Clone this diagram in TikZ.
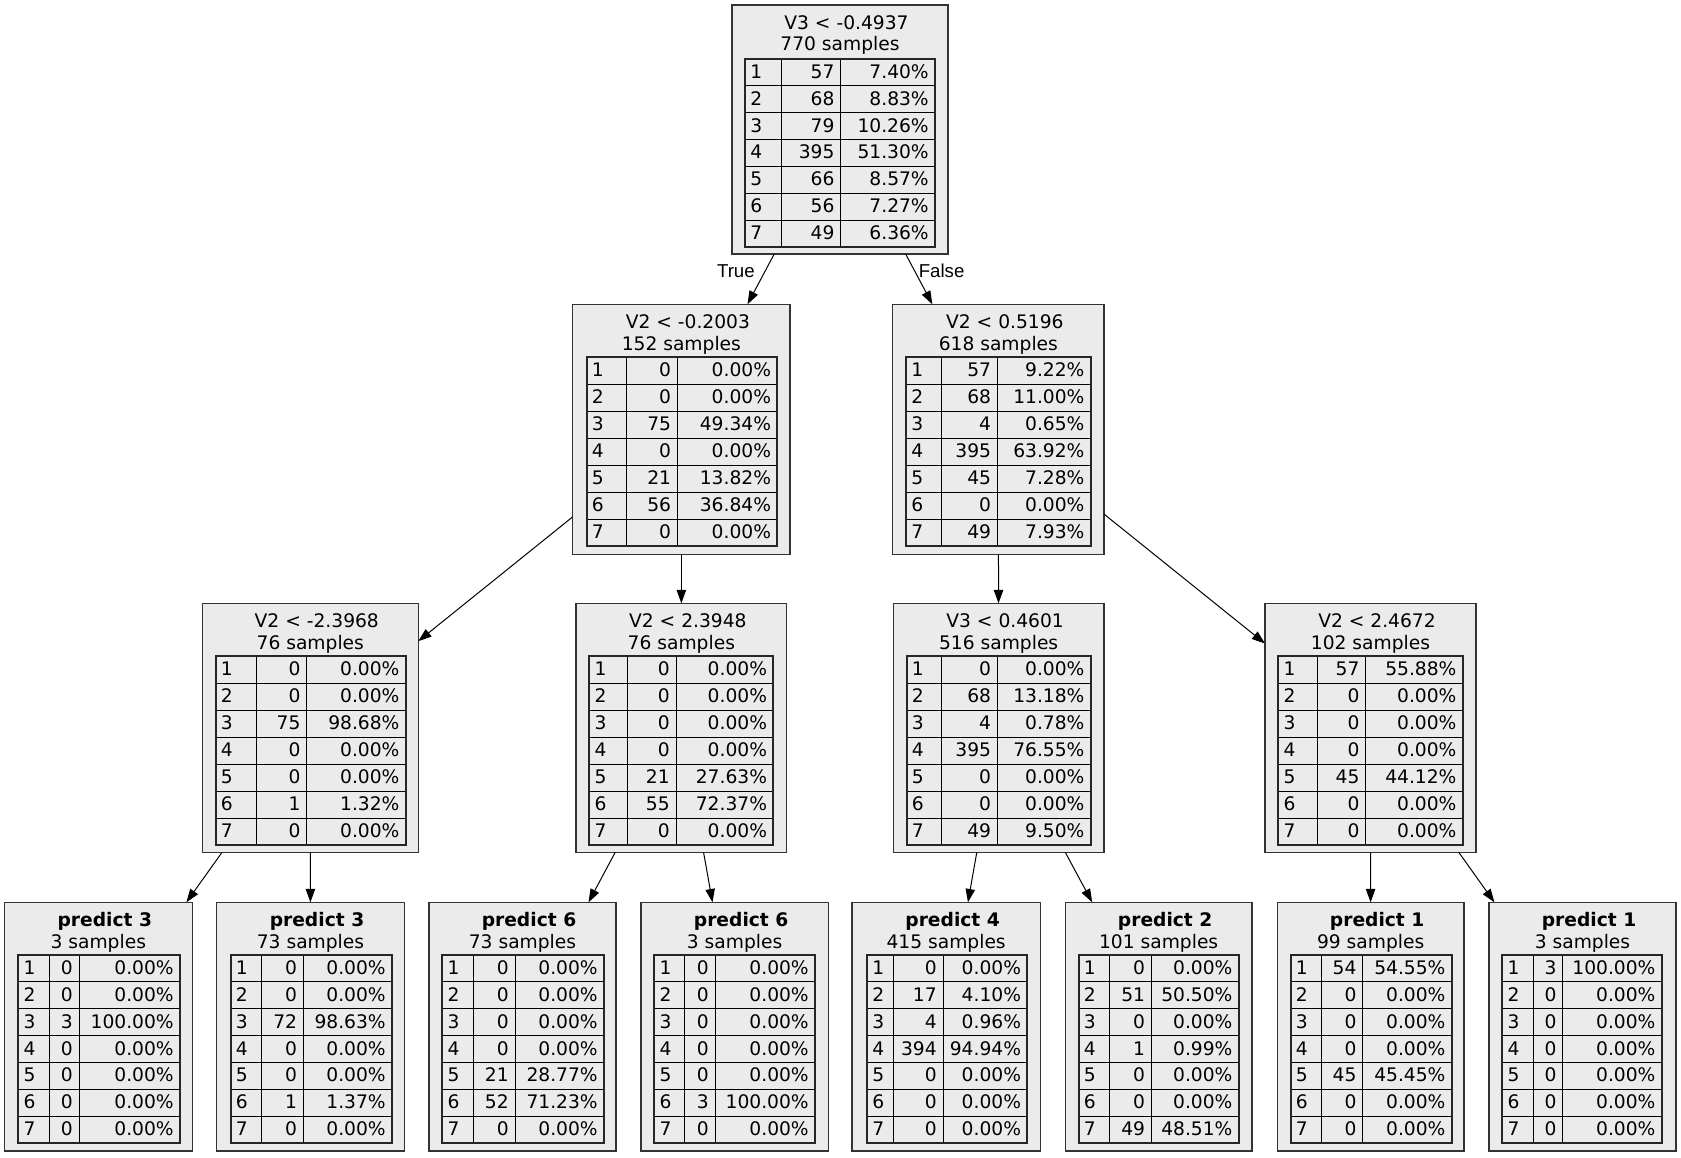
\documentclass[tikz,border=0pt]{standalone}
\usepackage{fontspec}
\setmainfont{DejaVu Sans}
\newfontfamily\labfont{Liberation Sans}
\usetikzlibrary{arrows.meta}
\definecolor{boxfill}{HTML}{EBEBEB}
\tikzset{
  dtbox/.style={draw=black!80, line width=0.9pt, fill=boxfill, inner sep=0pt, outer sep=0pt},
  cellline/.style={draw=black, line width=0.75pt},
  tborder/.style={draw=black!85, line width=1.5pt},
  txt/.style={inner sep=0pt, font=\fontsize{14}{16}\selectfont},
  ttl/.style={txt, anchor=base},
  bttl/.style={ttl, font=\fontsize{14}{16}\selectfont\bfseries},
  edge/.style={draw=black, line width=0.75pt, -{Triangle[length=10pt,width=7pt]}},
  elabel/.style={inner sep=0pt, font=\labfont\fontsize{14}{16}\selectfont},
}
% #1 name, #2 x1, #3 y1, #4 x2, #5 y2, #6 line1, #7 line2, #8 title style
\newcommand\dtbox[8]{%
  \node[dtbox, minimum width={(#4-#2)*0.75pt}, minimum height={(#5-#3)*0.75pt}] (#1) at ({(#2+#4)/2},{(#3+#5)/2}) {};
  \node[#8] (#1-t1) at ({(#2+#4)/2+6.5},{#3+24}) {#6};
  \node[ttl] (#1-t2) at ({(#2+#4)/2},{#3+45.7}) {#7};
}
% #1 x1, #2 y1, #3 c1, #4 c2, #5 x2, #6 y2, #7 rows
\newcommand\dttable[7]{%
  \pgfmathsetmacro\rh{(#6-#2)/7}
  \foreach \k in {1,...,6} {\draw[cellline] (#1,{#2+\k*\rh}) -- (#5,{#2+\k*\rh});}
  \draw[cellline] (#3,#2) -- (#3,#6);
  \draw[cellline] (#4,#2) -- (#4,#6);
  \draw[tborder] (#1,#2) rectangle (#5,#6);
  \foreach \a/\b/\c [count=\i from 0] in {#7} {
    \node[txt, anchor=base west] at ({#1+5},{#2+(\i+0.72)*\rh}) {\a};
    \node[txt, anchor=base east] at ({#4-6},{#2+(\i+0.72)*\rh}) {\b};
    \node[txt, anchor=base east] at ({#5-6},{#2+(\i+0.72)*\rh}) {\c\%};
  }
}
\begin{document}
\begin{tikzpicture}[x=0.75pt,y=-0.75pt]
\fill[white] (0,0) rectangle (1681,1157);
\useasboundingbox (0,0) rectangle (1681,1157);

% level 1
\dtbox{n0}{732}{5}{948}{254}{V3 < -0.4937}{770 samples}{ttl}
\dttable{745}{59}{781}{840.7}{935}{247}{1/57/7.40, 2/68/8.83, 3/79/10.26, 4/395/51.30, 5/66/8.57, 6/56/7.27, 7/49/6.36}

% level 2
\dtbox{n1}{572.7}{304.3}{790}{554.6}{V2 < -0.2003}{152 samples}{ttl}
\dttable{586.7}{357.3}{626.7}{677.3}{777.3}{546.3}{1/0/0.00, 2/0/0.00, 3/75/49.34, 4/0/0.00, 5/21/13.82, 6/56/36.84, 7/0/0.00}
\dtbox{n2}{892.7}{304.3}{1104}{554.6}{V2 < 0.5196}{618 samples}{ttl}
\dttable{906}{357.3}{941}{997.3}{1090.7}{546.3}{1/57/9.22, 2/68/11.00, 3/4/0.65, 4/395/63.92, 5/45/7.28, 6/0/0.00, 7/49/7.93}

% level 3
\dtbox{n3}{202.3}{603.3}{418.3}{852.3}{V2 < -2.3968}{76 samples}{ttl}
\dttable{215.7}{656}{256}{306.7}{405.7}{845}{1/0/0.00, 2/0/0.00, 3/75/98.68, 4/0/0.00, 5/0/0.00, 6/1/1.32, 7/0/0.00}
\dtbox{n4}{576}{603.3}{786.7}{852.3}{V2 < 2.3948}{76 samples}{ttl}
\dttable{589.3}{656}{627.7}{676}{773.3}{845}{1/0/0.00, 2/0/0.00, 3/0/0.00, 4/0/0.00, 5/21/27.63, 6/55/72.37, 7/0/0.00}
\dtbox{n5}{893.3}{603.3}{1104}{852.3}{V3 < 0.4601}{516 samples}{ttl}
\dttable{906.7}{656}{941}{997.3}{1090.7}{845}{1/0/0.00, 2/68/13.18, 3/4/0.78, 4/395/76.55, 5/0/0.00, 6/0/0.00, 7/49/9.50}
\dtbox{n6}{1265}{603.3}{1476}{852.3}{V2 < 2.4672}{102 samples}{ttl}
\dttable{1278.3}{656}{1317.3}{1365.7}{1462.7}{845}{1/57/55.88, 2/0/0.00, 3/0/0.00, 4/0/0.00, 5/45/44.12, 6/0/0.00, 7/0/0.00}

% leaves
\dtbox{l1}{4.3}{902.3}{192.3}{1151}{predict 3}{3 samples}{bttl}
\dttable{18.3}{955}{49}{79}{180}{1143.3}{1/0/0.00, 2/0/0.00, 3/3/100.00, 4/0/0.00, 5/0/0.00, 6/0/0.00, 7/0/0.00}
\dtbox{l2}{216.7}{902.3}{404.3}{1151}{predict 3}{73 samples}{bttl}
\dttable{230.7}{955}{261.7}{303.3}{392}{1143.3}{1/0/0.00, 2/0/0.00, 3/72/98.63, 4/0/0.00, 5/0/0.00, 6/1/1.37, 7/0/0.00}
\dtbox{l3}{429}{902.3}{616}{1151}{predict 6}{73 samples}{bttl}
\dttable{442.3}{955}{473.3}{515}{604}{1143.3}{1/0/0.00, 2/0/0.00, 3/0/0.00, 4/0/0.00, 5/21/28.77, 6/52/71.23, 7/0/0.00}
\dtbox{l4}{641}{902.3}{828.3}{1151}{predict 6}{3 samples}{bttl}
\dttable{654.3}{955}{684.3}{715}{815}{1143.3}{1/0/0.00, 2/0/0.00, 3/0/0.00, 4/0/0.00, 5/0/0.00, 6/3/100.00, 7/0/0.00}
\dtbox{l5}{852}{902.3}{1040.3}{1151}{predict 4}{415 samples}{bttl}
\dttable{867}{955}{893}{943}{1027.3}{1143.3}{1/0/0.00, 2/17/4.10, 3/4/0.96, 4/394/94.94, 5/0/0.00, 6/0/0.00, 7/0/0.00}
\dtbox{l6}{1065.3}{902.3}{1252}{1151}{predict 2}{101 samples}{bttl}
\dttable{1078.7}{955}{1109.7}{1151.3}{1238.7}{1143.3}{1/0/0.00, 2/51/50.50, 3/0/0.00, 4/1/0.99, 5/0/0.00, 6/0/0.00, 7/49/48.51}
\dtbox{l7}{1277.3}{902.3}{1464}{1151}{predict 1}{99 samples}{bttl}
\dttable{1290.7}{955}{1321}{1362.7}{1451.7}{1143.3}{1/54/54.55, 2/0/0.00, 3/0/0.00, 4/0/0.00, 5/45/45.45, 6/0/0.00, 7/0/0.00}
\dtbox{l8}{1489}{902.3}{1676}{1151}{predict 1}{3 samples}{bttl}
\dttable{1502.3}{955}{1533.3}{1562.7}{1661.7}{1143.3}{1/3/100.00, 2/0/0.00, 3/0/0.00, 4/0/0.00, 5/0/0.00, 6/0/0.00, 7/0/0.00}

% connectors
\draw[edge] (n0) -- (n1);
\draw[edge] (n0) -- (n2);
\draw[edge] (n1) -- (n3);
\draw[edge] (n1) -- (n4);
\draw[edge] (n2) -- (n5);
\draw[edge] (n2) -- (n6);
\draw[edge] (n3) -- (l1);
\draw[edge] (n3) -- (l2);
\draw[edge] (n4) -- (l3);
\draw[edge] (n4) -- (l4);
\draw[edge] (n5) -- (l5);
\draw[edge] (n5) -- (l6);
\draw[edge] (n6) -- (l7);
\draw[edge] (n6) -- (l8);

\node[elabel, anchor=base east] (tlab) at (755,277.3) {True};
\node[elabel, anchor=base west] (flab) at (918.5,277.3) {False};
\end{tikzpicture}
\end{document}
